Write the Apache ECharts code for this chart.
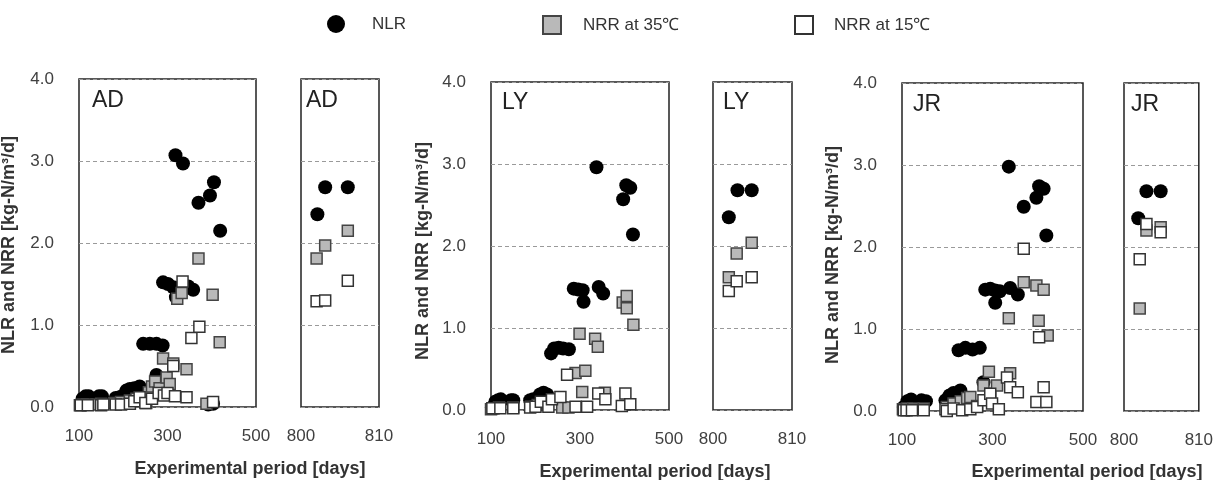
<!DOCTYPE html>
<html><head><meta charset="utf-8">
<script src="https://cdn.jsdelivr.net/npm/echarts@6/dist/echarts.min.js"></script>
<style>html,body{margin:0;padding:0;background:#fff}#c{width:1216px;height:480px}</style>
</head><body><div id="c"></div><script>
// ---------- tick labels ----------
const xTicksMain = [100, 300, 500];
const xTicksSide = [800, 810];
const yTicks = [0, 1, 2, 3, 4];
const panelNames = ['AD', 'LY', 'JR'];
const seriesNames = ['NLR', 'NRR at 35℃', 'NRR at 15℃'];

// ---------- AD ----------
const adNLR = [[108,0.10],[115,0.13],[122,0.13],[145,0.13],[152,0.13],[183,0.11],[192,0.12],[200,0.14],[207,0.20],[215,0.22],[225,0.23],[237,0.25],[245,0.77],[260,0.77],[275,0.77],[289,0.75],[275,0.39],[282,0.33],[290,1.52],[301,1.50],[313,1.46],[319,1.34],[347,1.47],[358,1.43],[318,3.07],[335,2.97],[370,2.49],[396,2.58],[405,2.74],[419,2.15],[392,0.03],[403,0.04]];
const adNRR35 = [[102,0.02],[108,0.03],[118,0.03],[140,0.03],[150,0.04],[180,0.05],[195,0.06],[215,0.08],[230,0.10],[245,0.12],[252,0.05],[258,0.18],[265,0.25],[272,0.31],[282,0.23],[290,0.59],[298,0.36],[305,0.28],[313,0.53],[322,1.32],[332,1.39],[343,0.46],[370,1.81],[388,0.04],[402,1.37],[418,0.79]];
const adNRR15 = [[104,0.02],[120,0.02],[150,0.02],[155,0.03],[183,0.03],[195,0.03],[215,0.04],[225,0.07],[237,0.12],[250,0.05],[265,0.10],[280,0.17],[292,0.14],[300,0.17],[313,0.50],[317,0.13],[334,1.53],[343,0.12],[354,0.84],[372,0.98],[403,0.06]];
const adSideNLR = [[802.1,2.35],[803.1,2.68],[806.0,2.68]];
const adSideNRR35 = [[802.0,1.81],[803.1,1.97],[806.0,2.15]];
const adSideNRR15 = [[802.0,1.29],[803.1,1.30],[806.0,1.54]];

// ---------- LY ----------
const lyNLR = [[102,0.03],[110,0.10],[116,0.12],[122,0.13],[145,0.12],[150,0.12],[188,0.12],[195,0.13],[210,0.19],[218,0.21],[226,0.19],[235,0.69],[242,0.75],[252,0.76],[262,0.75],[275,0.74],[286,1.48],[296,1.47],[306,1.46],[308,1.32],[342,1.50],[352,1.42],[337,2.96],[397,2.57],[404,2.74],[413,2.71],[419,2.14]];
const lyNRR35 = [[100,0.01],[106,0.02],[118,0.03],[150,0.03],[190,0.04],[205,0.06],[226,0.08],[260,0.03],[274,0.03],[290,0.45],[299,0.93],[305,0.22],[312,0.48],[334,0.87],[340,0.77],[356,0.21],[396,1.31],[405,1.39],[405,1.24],[420,1.04]];
const lyNRR15 = [[103,0.02],[121,0.02],[150,0.02],[188,0.03],[200,0.04],[212,0.10],[229,0.04],[237,0.13],[256,0.16],[271,0.43],[290,0.04],[316,0.04],[341,0.20],[357,0.13],[394,0.05],[402,0.20],[413,0.07]];
const lySideNLR = [[802.0,2.35],[803.1,2.68],[804.9,2.68]];
const lySideNRR35 = [[802.0,1.62],[803.0,1.91],[804.9,2.04]];
const lySideNRR15 = [[802.0,1.45],[803.0,1.57],[804.9,1.62]];

// ---------- JR ----------
const jrNLR = [[104,0.05],[112,0.12],[120,0.14],[143,0.13],[153,0.12],[196,0.13],[205,0.19],[214,0.22],[229,0.25],[225,0.74],[240,0.77],[256,0.75],[272,0.77],[280,0.35],[284,1.48],[295,1.49],[306,1.47],[316,1.46],[306,1.32],[336,2.98],[339,1.50],[356,1.42],[369,2.49],[397,2.60],[403,2.74],[413,2.71],[419,2.14]];
const jrNRR35 = [[102,0.02],[111,0.03],[125,0.03],[148,0.03],[199,0.05],[214,0.09],[230,0.12],[244,0.16],[251,0.17],[266,0.06],[280,0.31],[292,0.48],[295,0.21],[310,0.31],[336,1.13],[339,0.46],[369,1.57],[397,1.53],[402,1.10],[413,1.48],[422,0.92]];
const jrNRR15 = [[104,0.01],[110,0.01],[122,0.01],[148,0.01],[196,0.02],[199,0.00],[214,0.03],[233,0.01],[251,0.02],[266,0.05],[280,0.13],[295,0.21],[299,0.09],[314,0.02],[332,0.41],[339,0.29],[356,0.23],[369,1.98],[397,0.11],[403,0.90],[413,0.29],[419,0.11]];
const jrSideNLR = [[801.9,2.35],[803.0,2.68],[804.9,2.68]];
const jrSideNRR35 = [[802.1,1.25],[803.0,2.20],[804.9,2.24]];
const jrSideNRR15 = [[802.1,1.85],[803.0,2.28],[804.9,2.18]];

const panelData = [
  {main: [adNLR, adNRR35, adNRR15], side: [adSideNLR, adSideNRR35, adSideNRR15]},
  {main: [lyNLR, lyNRR35, lyNRR15], side: [lySideNLR, lySideNRR35, lySideNRR15]},
  {main: [jrNLR, jrNRR35, jrNRR15], side: [jrSideNLR, jrSideNRR35, jrSideNRR15]}
];

// ---------- layout (pixels) ----------
const layout = [
  {main: {left: 79, top: 79, width: 177, height: 328}, side: {left: 301, width: 78},
   lab: [[92, 101], [306, 101]], xt: [250, 469], yt: [9, 245]},
  {main: {left: 491, top: 82, width: 178, height: 328}, side: {left: 713, width: 79},
   lab: [[502, 103], [723, 103]], xt: [655, 472], yt: [423, 251]},
  {main: {left: 902, top: 83, width: 181, height: 328}, side: {left: 1124, width: 78},
   lab: [[913, 105], [1131, 105]], xt: [1087, 472], yt: [833, 255]}
];

const symStyles = [
  {symbol: 'circle', symbolSize: 14, itemStyle: {color: '#000', borderWidth: 0, opacity: 1}},
  {symbol: 'rect', symbolSize: 11, itemStyle: {color: '#b9b9b9', borderColor: '#444', borderWidth: 1.5, opacity: 1}},
  {symbol: 'rect', symbolSize: 11, itemStyle: {color: '#fff', borderColor: '#333', borderWidth: 1.5, opacity: 1}}
];

const grid = [], xAxis = [], yAxis = [], series = [], graphic = [];
const tickColor = '#404040';
const tickFont = 'Liberation Sans, Arial, sans-serif';
layout.forEach((L, p) => {
  const gMain = grid.length;
  grid.push(Object.assign({show: true, borderColor: '#222', borderWidth: 1.5, backgroundColor: 'transparent'}, L.main));
  grid.push({show: true, borderColor: '#222', borderWidth: 1.5, backgroundColor: 'transparent',
    left: L.side.left, width: L.side.width, top: L.main.top, height: L.main.height});
  // x axes
  xAxis.push({gridIndex: gMain, type: 'value', min: xTicksMain[0], max: xTicksMain[xTicksMain.length-1], interval: 100,
    axisLine: {show: false}, axisTick: {show: false}, splitLine: {show: false},
    axisLabel: {color: tickColor, fontSize: 17, fontFamily: tickFont, margin: 21,
      showMinLabel: true, showMaxLabel: true,
      formatter: v => xTicksMain.indexOf(v) >= 0 ? String(v) : ''}});
  xAxis.push({gridIndex: gMain + 1, type: 'value', min: xTicksSide[0], max: xTicksSide[1], interval: 10,
    axisLine: {show: false}, axisTick: {show: false}, splitLine: {show: false},
    axisLabel: {color: tickColor, fontSize: 17, fontFamily: tickFont, margin: 21,
      showMinLabel: true, showMaxLabel: true}});
  // y axes
  const split = {show: true, lineStyle: {color: '#9a9a9a', type: [4, 3], width: 1}};
  yAxis.push({gridIndex: gMain, type: 'value', min: yTicks[0], max: yTicks[yTicks.length-1], interval: 1,
    axisLine: {show: false}, axisTick: {show: false}, splitLine: split,
    axisLabel: {color: tickColor, fontSize: 17, fontFamily: tickFont, margin: 25,
      formatter: v => v.toFixed(1)}});
  yAxis.push({gridIndex: gMain + 1, type: 'value', min: yTicks[0], max: yTicks[yTicks.length-1], interval: 1,
    axisLine: {show: false}, axisTick: {show: false}, splitLine: split, axisLabel: {show: false}});
  // series
  ['main', 'side'].forEach((k, j) => {
    panelData[p][k].forEach((arr, s) => {
      series.push(Object.assign({
        type: 'scatter', name: seriesNames[s], xAxisIndex: gMain + j, yAxisIndex: gMain + j,
        data: arr, clip: false, z: 2 + s, emphasis: {disabled: true}, silent: true
      }, symStyles[s]));
    });
  });
  // texts
  L.lab.forEach(([x, y]) => graphic.push({type: 'text', x: x, y: y, z: 10,
    style: {text: panelNames[p], fill: '#222', font: '23px "Liberation Sans", Arial, sans-serif', verticalAlign: 'middle', align: 'left'}}));
  graphic.push({type: 'text', x: L.xt[0], y: L.xt[1], z: 10,
    style: {text: 'Experimental period [days]', fill: '#333', font: 'bold 18px "Liberation Sans", Arial, sans-serif', align: 'center', verticalAlign: 'middle'}});
  graphic.push({type: 'text', x: L.yt[0], y: L.yt[1], rotation: Math.PI / 2, z: 10,
    style: {text: 'NLR and NRR [kg-N/m³/d]', fill: '#333', font: 'bold 18px "Liberation Sans", Arial, sans-serif', align: 'center', verticalAlign: 'middle'}});
});

const legendBase = {top: 10, itemWidth: 18, itemHeight: 18, selectedMode: false,
  textStyle: {color: '#333', fontSize: 17, fontFamily: tickFont}};
const legend = [
  Object.assign({}, legendBase, {left: 322, data: [seriesNames[0]], textStyle: Object.assign({}, legendBase.textStyle, {padding: [0,0,0,22]})}),
  Object.assign({}, legendBase, {left: 537, data: [seriesNames[1]], textStyle: Object.assign({}, legendBase.textStyle, {padding: [0,0,0,17]})}),
  Object.assign({}, legendBase, {left: 789, data: [seriesNames[2]], textStyle: Object.assign({}, legendBase.textStyle, {padding: [0,0,0,16]})})
];

const chart = echarts.init(document.getElementById('c'), null, {renderer: 'canvas'});
chart.setOption({animation: false, backgroundColor: '#fff', grid, xAxis, yAxis, series, legend, graphic});
</script></body></html>
